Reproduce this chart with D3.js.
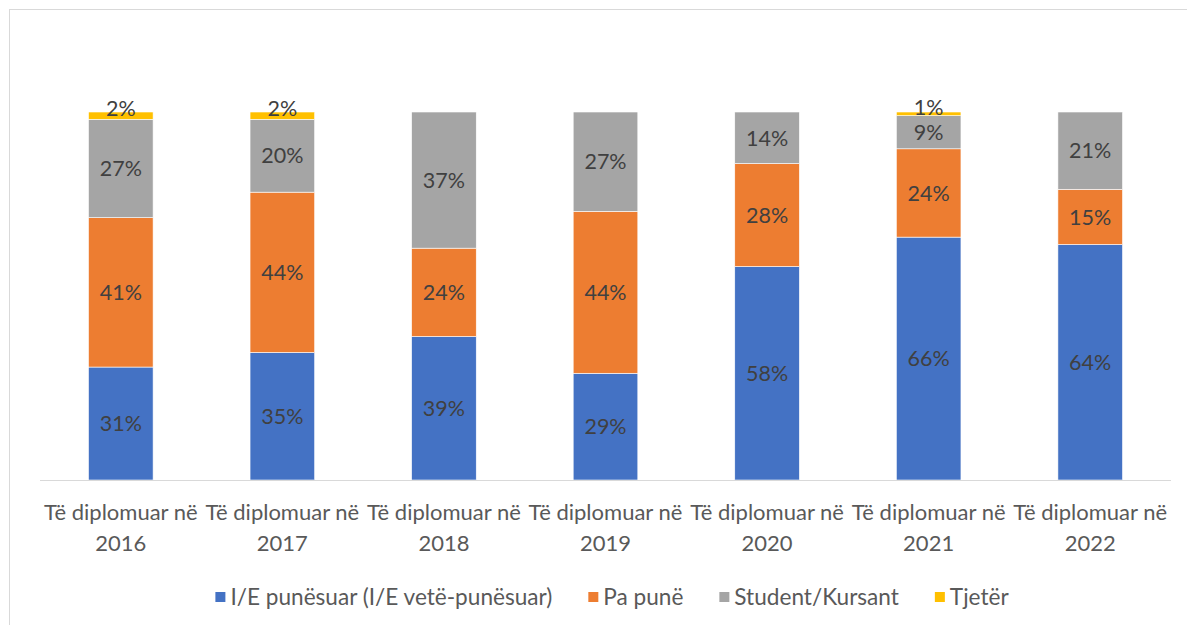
<!DOCTYPE html>
<html>
<head>
<meta charset="utf-8">
<script src="https://cdn.jsdelivr.net/npm/d3@7"></script>
<style>
  body { margin: 0; background: #fff; }
  text { font-family: Lato, "Open Sans", sans-serif; }
</style>
</head>
<body>
<svg id="Chart"></svg>
<script>
// categories and series
let years = ['2016', '2017', '2018', '2019', '2020', '2021', '2022'];
let catPrefix = 'Të diplomuar në';
let seriesNames = ['I/E punësuar (I/E vetë-punësuar)', 'Pa punë', 'Student/Kursant', 'Tjetër'];
let seriesColors = ['#4472c4', '#ed7d31', '#a5a5a5', '#ffc000'];

let employed = [31, 35, 39, 29, 58, 66, 64];
let unemployed = [41, 44, 24, 44, 28, 24, 15];
let student = [27, 20, 37, 27, 14, 9, 21];
let other = [2, 2, 0, 0, 0, 1, 0];

function buildRows() {
    return years.map((y, i) => {
        let vals = [employed[i], unemployed[i], student[i], other[i]];
        let total = d3.sum(vals);
        let row = { year: y, total };
        seriesNames.forEach((s, k) => row[s] = vals[k]);
        return row;
    });
}

function getConfig() {
    let width = 1187;
    let height = 625;
    let margin = { top: 112, bottom: 145, left: 40, right: 16 };
    let bodyWidth = width - margin.left - margin.right;
    let bodyHeight = height - margin.top - margin.bottom;
    let container = d3.select('#Chart')
        .attr('width', width)
        .attr('height', height);
    return { width, height, margin, bodyWidth, bodyHeight, container };
}

function getScales(rows, config) {
    let { bodyWidth, bodyHeight } = config;
    let xScale = d3.scaleBand()
        .domain(years)
        .range([0, bodyWidth])
        .paddingInner(0.6)
        .paddingOuter(0.3);
    let yScale = d3.scaleLinear()
        .domain([0, 1])
        .range([bodyHeight, 0]);
    return { xScale, yScale };
}

function drawBars(rows, scales, config) {
    let { container, margin } = config;
    let { xScale, yScale } = scales;

    // normalise each column to 100%, like the spreadsheet's 100% stacked bars
    let norm = rows.map(r => {
        let o = { year: r.year };
        seriesNames.forEach(s => o[s] = r[s] / r.total);
        return o;
    });
    let stacked = d3.stack().keys(seriesNames)(norm);

    let body = container.append('g')
        .attr('transform', `translate(${margin.left},${margin.top})`);

    let layers = body.selectAll('.layer').data(stacked)
        .enter().append('g')
        .attr('fill', (d, i) => seriesColors[i]);

    layers.selectAll('rect').data(d => d.filter(p => p[1] - p[0] > 0))
        .enter().append('rect')
        .attr('x', d => xScale(d.data.year))
        .attr('width', xScale.bandwidth())
        .attr('y', d => yScale(d[1]))
        .attr('height', d => yScale(d[0]) - yScale(d[1]))
        .attr('stroke', '#fff')
        .attr('stroke-width', 0.6);

    // data labels
    stacked.forEach((layer, k) => {
        layer.forEach((d, i) => {
            let v = rows[i][seriesNames[k]];
            if (!v) return;
            let yMid = (yScale(d[0]) + yScale(d[1])) / 2;
            if (v < 3) yMid -= 7;
            body.append('text')
                .attr('x', xScale(d.data.year) + xScale.bandwidth() / 2)
                .attr('y', yMid)
                .attr('dy', '0.36em')
                .attr('text-anchor', 'middle')
                .attr('font-size', 21.5)
                .attr('fill', '#404040')
                .text(v + '%');
        });
    });
}

function drawAxis(scales, config) {
    let { container, margin, bodyHeight, bodyWidth } = config;
    let { xScale } = scales;
    let axis = container.append('g')
        .attr('transform', `translate(${margin.left},${margin.top + bodyHeight})`);

    axis.append('line')
        .attr('x1', 0).attr('x2', bodyWidth)
        .attr('y1', 0.5).attr('y2', 0.5)
        .attr('stroke', '#d9d9d9')
        .attr('stroke-width', 1);

    let labels = axis.selectAll('.cat').data(years)
        .enter().append('text')
        .attr('text-anchor', 'middle')
        .attr('font-size', 22)
        .attr('fill', '#595959');
    labels.append('tspan')
        .attr('x', d => xScale(d) + xScale.bandwidth() / 2)
        .attr('y', 40)
        .text(catPrefix);
    labels.append('tspan')
        .attr('x', d => xScale(d) + xScale.bandwidth() / 2)
        .attr('y', 71)
        .text(d => d);
}

function drawLegend(config) {
    let { container } = config;
    let box = 10, gapText = 5, gapItem = 36, centerX = 612;
    let legend = container.append('g')
        .attr('transform', 'translate(0,597)');

    let items = seriesNames.map((s, i) => {
        let g = legend.append('g');
        g.append('rect')
            .attr('x', 0).attr('y', -box / 2)
            .attr('width', box).attr('height', box)
            .attr('fill', seriesColors[i]);
        let t = g.append('text')
            .attr('x', box + gapText)
            .attr('y', 0)
            .attr('dy', '0.35em')
            .attr('font-size', 22.6)
            .attr('fill', '#595959')
            .text(s);
        let w = box + gapText + t.node().getComputedTextLength();
        return { g, w };
    });

    let total = d3.sum(items, d => d.w) + gapItem * (items.length - 1);
    let x = centerX - total / 2;
    items.forEach(it => {
        it.g.attr('transform', `translate(${x},0)`);
        x += it.w + gapItem;
    });
}

function drawFrame(config) {
    config.container.append('rect')
        .attr('x', 9.5).attr('y', 9.5)
        .attr('width', 1200).attr('height', 700)
        .attr('fill', 'none')
        .attr('stroke', '#d9d9d9');
}

function showChart() {
    let rows = buildRows();
    let config = getConfig();
    let scales = getScales(rows, config);
    drawFrame(config);
    drawBars(rows, scales, config);
    drawAxis(scales, config);
    drawLegend(config);
}

showChart();
</script>
</body>
</html>
